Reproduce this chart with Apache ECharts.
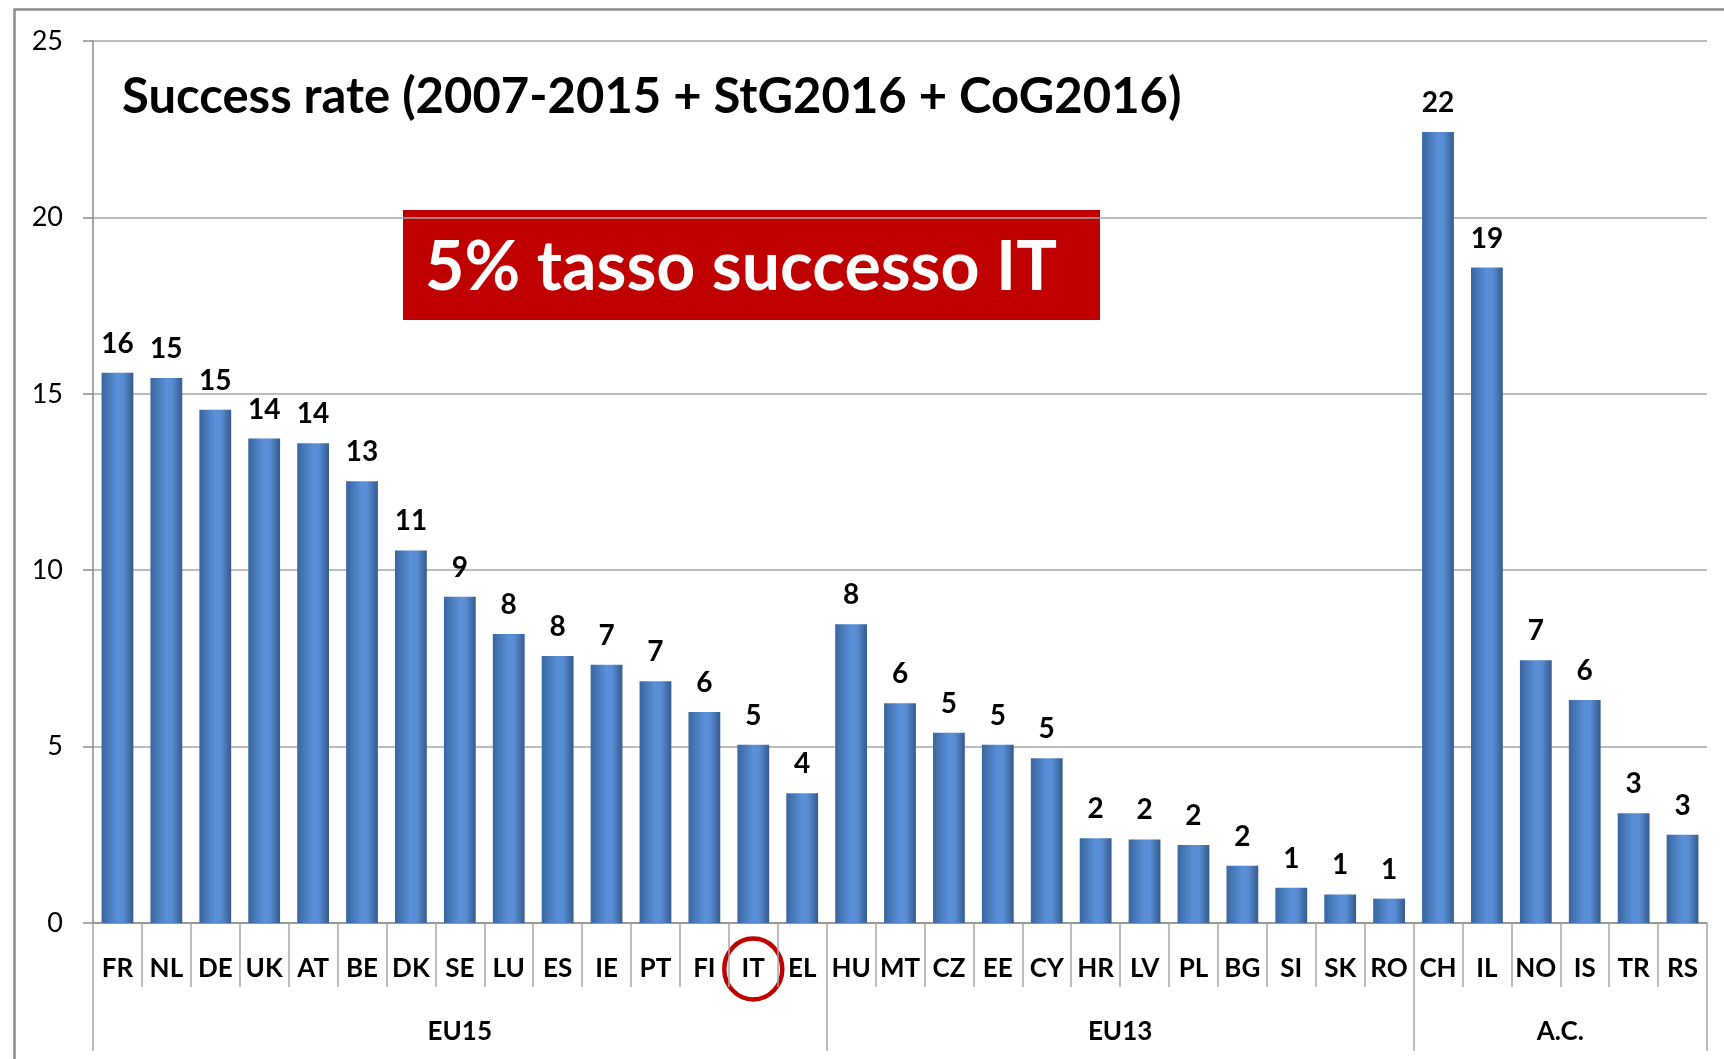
<!DOCTYPE html>
<html>
<head>
<meta charset="utf-8">
<script src="https://cdn.jsdelivr.net/npm/echarts@6/dist/echarts.min.js"></script>
<style>
  html, body { margin: 0; padding: 0; background: #fff; }
  #chart { width: 1724px; height: 1059px; }
</style>
</head>
<body>
<div id="chart"></div>
<script>
// countries, in the order shown
let countries = ["FR", "NL", "DE", "UK", "AT", "BE", "DK", "SE", "LU", "ES", "IE", "PT", "FI", "IT", "EL",
  "HU", "MT", "CZ", "EE", "CY", "HR", "LV", "PL", "BG", "SI", "SK", "RO",
  "CH", "IL", "NO", "IS", "TR", "RS"];
// success rate (%)
let rates = [15.6, 15.45, 14.55, 13.73, 13.6, 12.52, 10.56, 9.25, 8.19, 7.57, 7.32, 6.85, 5.98, 5.05, 3.68,
  8.47, 6.23, 5.39, 5.05, 4.67, 2.4, 2.37, 2.21, 1.62, 1.0, 0.81, 0.69,
  22.42, 18.58, 7.45, 6.32, 3.11, 2.5];
// group names and how many countries each covers
let groupNames = ["EU15", "EU13", "A.C."];
let groupSizes = [15, 12, 6];
let yTicks = [0, 5, 10, 15, 20, 25];

let font = "Lato";
let boundaries = [0];
let centers = [];
groupSizes.forEach(n => {
  let start = boundaries[boundaries.length - 1];
  centers.push(start + n / 2);
  boundaries.push(start + n);
});

let myChart = echarts.init(document.getElementById("chart"));
let barColor = new echarts.graphic.LinearGradient(0, 0, 1, 0, [
  { offset: 0, color: "#3a66a0" },
  { offset: 0.5, color: "#5a90d8" },
  { offset: 0.68, color: "#588dd4" },
  { offset: 1, color: "#355b8e" }
]);

let option = {
  backgroundColor: "#fff",
  animation: false,
  title: {
    text: "Success rate (2007-2015 + StG2016 + CoG2016)",
    left: 117,
    top: 68,
    textStyle: { fontFamily: font, fontSize: 49, fontWeight: "bold", color: "#000" }
  },
  grid: { left: 93, right: 17, top: 41, bottom: 136 },
  xAxis: [
    {
      type: "category",
      data: countries,
      position: "bottom",
      axisLine: { lineStyle: { color: "#8a8a8a", width: 1.5 } },
      axisTick: { show: true, interval: 0, length: 64, lineStyle: { color: "#a6a6a6", width: 1.5 } },
      axisLabel: { interval: 0, margin: 33, fontFamily: font, fontSize: 26, fontWeight: "bold", color: "#000" }
    },
    {
      type: "value",
      min: 0,
      max: countries.length,
      position: "bottom",
      axisLine: { show: false },
      splitLine: { show: false },
      axisTick: {
        show: true,
        customValues: boundaries,
        length: 128,
        lineStyle: { color: "#a6a6a6", width: 1.5 }
      },
      axisLabel: {
        customValues: centers,
        margin: 96,
        fontFamily: font,
        fontSize: 26,
        fontWeight: "bold",
        color: "#000",
        formatter: v => groupNames[centers.indexOf(v)] || ""
      }
    }
  ],
  yAxis: {
    type: "value",
    min: yTicks[0],
    max: yTicks[yTicks.length - 1],
    interval: 5,
    axisLine: { show: true, lineStyle: { color: "#8a8a8a", width: 1.5 } },
    axisTick: { show: true, length: 10, lineStyle: { color: "#8a8a8a", width: 1.5 } },
    axisLabel: { margin: 30, fontFamily: font, fontSize: 27, color: "#000" },
    splitLine: { lineStyle: { color: "#a6a6a6", width: 1.5 } }
  },
  series: [
    {
      type: "bar",
      data: rates,
      barCategoryGap: "35%",
      itemStyle: { color: barColor },
      label: {
        show: true,
        position: "top",
        distance: 15,
        fontFamily: font,
        fontSize: 28,
        fontWeight: "bold",
        color: "#000",
        formatter: p => Math.round(p.value)
      }
    }
  ],
  graphic: [
    {
      id: "frame",
      type: "rect",
      left: 12,
      top: 7,
      shape: { x: 0, y: 0, width: 1800, height: 1200 },
      style: { fill: "none", stroke: "#8c8c8c", lineWidth: 2.5 },
      silent: true
    },
    {
      id: "note",
      type: "group",
      left: 403,
      top: 210,
      children: [
        { type: "rect", shape: { x: 0, y: 0, width: 697, height: 110 }, style: { fill: "#c00000" } },
        {
          type: "text",
          x: 22,
          y: 58,
          style: {
            text: "5% tasso successo IT",
            fill: "#fff",
            fontFamily: font,
            fontSize: 68,
            fontWeight: "bold",
            verticalAlign: "middle"
          }
        }
      ]
    }
  ]
};
myChart.setOption(option, true);

// red ring round the IT label, placed from the axis scale
let itX = myChart.convertToPixel({ xAxisIndex: 0 }, "IT");
let zeroY = myChart.convertToPixel({ yAxisIndex: 0 }, 0);
myChart.setOption({
  graphic: [
    {
      id: "ring",
      type: "ellipse",
      shape: { cx: itX, cy: zeroY + 33 + 13, rx: 29, ry: 30.5 },
      style: { fill: "none", stroke: "#c00000", lineWidth: 4.5 },
      silent: true
    }
  ]
});

window.addEventListener("resize", () => {
  myChart.resize();
});
</script>
</body>
</html>
